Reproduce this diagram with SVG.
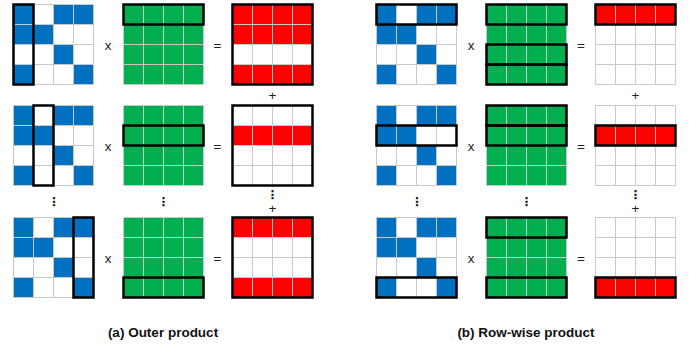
<svg xmlns="http://www.w3.org/2000/svg" xmlns:xlink="http://www.w3.org/1999/xlink" width="694" height="347" viewBox="0 0 694 347">
<style>
.w{fill:#ffffff}
.b{fill:#0070c0}
.g{fill:#00b050}
.r{fill:#ff0000}
.grid{fill:none;stroke:#c8c8c8;stroke-width:1}
.hl{fill:none;stroke:#000000;stroke-width:2.5}
.op{font-family:"Liberation Sans",Arial,sans-serif;font-size:13.5px;fill:#222;text-anchor:middle}
.dots{font-family:"DejaVu Sans",sans-serif;font-size:12px;font-weight:bold;fill:#222;text-anchor:middle}
.cap{font-family:"Liberation Sans",Arial,sans-serif;font-size:13.5px;font-weight:bold;fill:#111;text-anchor:middle}
</style>
<defs>
<path id="grid" class="grid" d="M0 0H80V80H0Z M20 0V80 M40 0V80 M60 0V80 M0 20H80 M0 40H80 M0 60H80"/>
<g id="A">
<rect class="w" width="80" height="80"/>
<rect class="b" x="0" y="0" width="20" height="20"/>
<rect class="b" x="40" y="0" width="20" height="20"/>
<rect class="b" x="60" y="0" width="20" height="20"/>
<rect class="b" x="0" y="20" width="20" height="20"/>
<rect class="b" x="20" y="20" width="20" height="20"/>
<rect class="b" x="40" y="40" width="20" height="20"/>
<rect class="b" x="0" y="60" width="20" height="20"/>
<rect class="b" x="60" y="60" width="20" height="20"/>
<use xlink:href="#grid"/>
</g>
<g id="B">
<rect class="g" width="80" height="80"/>
<use xlink:href="#grid"/>
</g>
<rect id="W" class="w" width="80" height="80"/>
<rect id="R" class="r" width="80" height="20"/>
<rect id="col" class="hl" width="20" height="80"/>
<rect id="row" class="hl" width="80" height="20"/>
<rect id="all" class="hl" width="80" height="80"/>
</defs>

<!-- (a) Outer product -->
<g id="a1-A" transform="translate(13.5,4.5)"><use xlink:href="#A"/><use xlink:href="#col" x="0"/></g>
<g id="a1-B" transform="translate(123.5,4.5)"><use xlink:href="#B"/><use xlink:href="#row" y="0"/></g>
<g id="a1-C" transform="translate(232.5,4.5)"><use xlink:href="#W"/><use xlink:href="#R" y="0"/><use xlink:href="#R" y="20"/><use xlink:href="#R" y="60"/><use xlink:href="#grid"/><use xlink:href="#all"/></g>

<g id="a2-A" transform="translate(13.5,105.5)"><use xlink:href="#A"/><use xlink:href="#col" x="20"/></g>
<g id="a2-B" transform="translate(123.5,105.5)"><use xlink:href="#B"/><use xlink:href="#row" y="20"/></g>
<g id="a2-C" transform="translate(232.5,105.5)"><use xlink:href="#W"/><use xlink:href="#R" y="20"/><use xlink:href="#grid"/><use xlink:href="#all"/></g>

<g id="a3-A" transform="translate(13.5,217.5)"><use xlink:href="#A"/><use xlink:href="#col" x="60"/></g>
<g id="a3-B" transform="translate(123.5,217.5)"><use xlink:href="#B"/><use xlink:href="#row" y="60"/></g>
<g id="a3-C" transform="translate(232.5,217.5)"><use xlink:href="#W"/><use xlink:href="#R" y="0"/><use xlink:href="#R" y="60"/><use xlink:href="#grid"/><use xlink:href="#all"/></g>

<!-- (b) Row-wise product -->
<g id="b1-A" transform="translate(376.5,4.5)"><use xlink:href="#A"/><use xlink:href="#row" y="0"/></g>
<g id="b1-B" transform="translate(486.5,4.5)"><use xlink:href="#B"/><use xlink:href="#row" y="0"/><use xlink:href="#row" y="40"/><use xlink:href="#row" y="60"/></g>
<g id="b1-C" transform="translate(595.5,4.5)"><use xlink:href="#W"/><use xlink:href="#R" y="0"/><use xlink:href="#grid"/><use xlink:href="#row" y="0"/></g>

<g id="b2-A" transform="translate(376.5,105.5)"><use xlink:href="#A"/><use xlink:href="#row" y="20"/></g>
<g id="b2-B" transform="translate(486.5,105.5)"><use xlink:href="#B"/><use xlink:href="#row" y="0"/><use xlink:href="#row" y="20"/></g>
<g id="b2-C" transform="translate(595.5,105.5)"><use xlink:href="#W"/><use xlink:href="#R" y="20"/><use xlink:href="#grid"/><use xlink:href="#row" y="20"/></g>

<g id="b3-A" transform="translate(376.5,217.5)"><use xlink:href="#A"/><use xlink:href="#row" y="60"/></g>
<g id="b3-B" transform="translate(486.5,217.5)"><use xlink:href="#B"/><use xlink:href="#row" y="0"/><use xlink:href="#row" y="60"/></g>
<g id="b3-C" transform="translate(595.5,217.5)"><use xlink:href="#W"/><use xlink:href="#R" y="60"/><use xlink:href="#grid"/><use xlink:href="#row" y="60"/></g>

<g id="operators">
<text class="op" x="108" y="50">x</text>
<text class="op" x="217.5" y="50">=</text>
<text class="op" x="108" y="151">x</text>
<text class="op" x="217.5" y="151">=</text>
<text class="op" x="108" y="263">x</text>
<text class="op" x="217.5" y="263">=</text>
<text class="op" x="272.5" y="100">+</text>
<text class="op" x="272.5" y="213">+</text>
<text class="dots" x="54" y="206">⋮</text>
<text class="dots" x="163.5" y="206">⋮</text>
<text class="dots" x="272.5" y="199">⋮</text>

<text class="op" x="471" y="50">x</text>
<text class="op" x="581" y="50">=</text>
<text class="op" x="471" y="151">x</text>
<text class="op" x="581" y="151">=</text>
<text class="op" x="471" y="263">x</text>
<text class="op" x="581" y="263">=</text>
<text class="op" x="635.5" y="100">+</text>
<text class="op" x="635.5" y="213">+</text>
<text class="dots" x="417" y="206">⋮</text>
<text class="dots" x="526.5" y="206">⋮</text>
<text class="dots" x="635.5" y="199">⋮</text>
</g>

<g id="captions">
<text class="cap" x="163" y="337">(a) Outer product</text>
<text class="cap" x="526" y="337">(b) Row-wise product</text>
</g>
</svg>
